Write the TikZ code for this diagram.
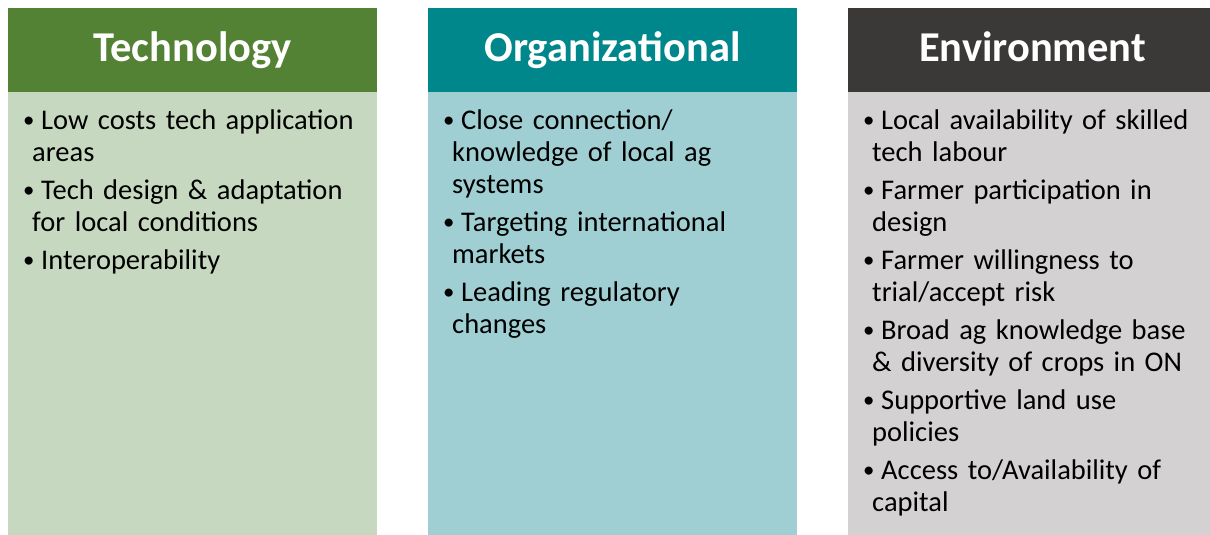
\documentclass[tikz,border=0pt]{standalone}
\usepackage{fontspec}
\setmainfont{Carlito}
\usetikzlibrary{positioning}
\definecolor{techdark}{HTML}{548235}
\definecolor{techlight}{HTML}{C6D9C0}
\definecolor{orgdark}{HTML}{00878C}
\definecolor{orglight}{HTML}{A0CFD3}
\definecolor{envdark}{HTML}{3B3838}
\definecolor{envlight}{HTML}{D3D1D2}
\tikzset{
  headbox/.style={fill=#1, anchor=north west, inner sep=0pt,
    minimum width=369pt, minimum height=84.5pt},
  bodybox/.style={fill=#1, anchor=north west, inner sep=0pt,
    minimum width=369pt, minimum height=443pt},
  titletext/.style={text=white, anchor=base,
    font=\fontsize{42.5}{50}\selectfont\bfseries},
  listtext/.style={anchor=north west, inner sep=0pt, text width=345pt,
    align=left, font=\fontsize{28.5}{32}\selectfont}
}
\newcommand\entry[1]{\hangindent=9pt\hangafter=1\noindent\strut
  \makebox[18pt][l]{\raisebox{1.3pt}{\scalebox{0.8}{\textbullet}}}#1\par}
\begin{document}
\begin{tikzpicture}[x=1pt,y=-1pt]
  \useasboundingbox (0,0) rectangle (1210,535);
  % three columns: header bar, light body, title
  \foreach \x/\name/\dark/\light/\title in {8/tech/techdark/techlight/Technology,
      428/org/orgdark/orglight/Organizational, 848/env/envdark/envlight/Environment}{
    \node[headbox=\dark] (\name head) at (\x,7.5) {};
    \node[bodybox=\light] (\name body) at (\x,92) {};
    \node[titletext] (\name title) at (\x+184.5,62) {\title};
  }
  % bullet lists
  \node[listtext] (techlist) at (23,106.6) {%
    \entry{Low costs tech application\newline areas}
    \vspace{6pt}
    \entry{Tech design \& adaptation\newline for local conditions}
    \vspace{6pt}
    \entry{Interoperability}};
  \node[listtext] (orglist) at (443,106.6) {%
    \entry{Close connection/\newline knowledge of local ag\newline systems}
    \vspace{6pt}
    \entry{Targeting international\newline markets}
    \vspace{6pt}
    \entry{Leading regulatory\newline changes}};
  \node[listtext] (envlist) at (863,106.6) {%
    \entry{Local availability of skilled\newline tech labour}
    \vspace{6pt}
    \entry{Farmer participation in\newline design}
    \vspace{6pt}
    \entry{Farmer willingness to\newline trial/accept risk}
    \vspace{6pt}
    \entry{Broad ag knowledge base\newline \& diversity of crops in ON}
    \vspace{6pt}
    \entry{Supportive land use\newline policies}
    \vspace{6pt}
    \entry{Access to/Availability of\newline capital}};
\end{tikzpicture}
\end{document}
